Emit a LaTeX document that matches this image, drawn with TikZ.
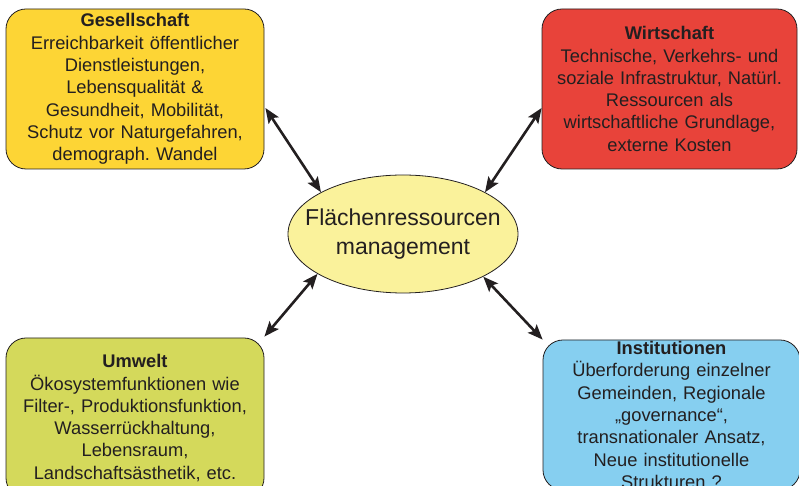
\documentclass[tikz,border=0pt]{standalone}
\usepackage{fontspec}
\setmainfont{Liberation Sans}
\usetikzlibrary{shapes.geometric,arrows.meta,calc}
\definecolor{cges}{HTML}{FDD535}
\definecolor{cwir}{HTML}{E8433A}
\definecolor{cumw}{HTML}{D4D95B}
\definecolor{cins}{HTML}{86CFF0}
\definecolor{cell}{HTML}{FAF29B}
\definecolor{cline}{HTML}{231F20}
\begin{document}
\begin{tikzpicture}[x=1pt,y=1pt,
  box/.style={draw=cline, line width=0.8pt, rounded corners=20pt, minimum width=258pt, minimum height=160pt, align=center, text width=254pt, inner sep=0pt, font=\fontsize{18.3}{22.3}\selectfont, text=cline},
  conn/.style={line width=2.6pt, draw=cline, {Stealth[length=15pt,width=12pt,inset=3pt]}-{Stealth[length=15pt,width=12pt,inset=3pt]}}
]
\useasboundingbox (0,0) rectangle (799,486);
\clip (0,0) rectangle (799,486);
\node[box, fill=cges] (ges) at (135,397) {\textbf{Gesellschaft}\\Erreichbarkeit öffentlicher\\Dienstleistungen,\\Lebensqualität \&\\Gesundheit, Mobilität,\\Schutz vor Naturgefahren,\\demograph.~Wandel};
\node[box, fill=cwir, minimum width=255pt] (wir) at (669.5,397) {\textbf{Wirtschaft}\\Technische, Verkehrs- und\\soziale Infrastruktur, Natürl.\\Ressourcen als\\wirtschaftliche Grundlage,\\externe Kosten};
\node[box, fill=cumw] (umw) at (135,68) {\textbf{Umwelt}\\Ökosystemfunktionen wie\\Filter-, Produktionsfunktion,\\Wasserrückhaltung,\\Lebensraum,\\Landschaftsästhetik, etc.};
\node[box, fill=cins, minimum width=257pt, minimum height=150pt, inner ysep=1pt] (ins) at (671.5,71) {\textbf{Institutionen}\\Überforderung einzelner\\Gemeinden, Regionale\\„governance“,\\transnationaler Ansatz,\\Neue institutionelle\\Strukturen ?};
\node[ellipse, draw=cline, line width=0.8pt, fill=cell, minimum width=230pt, minimum height=118pt, inner sep=0pt] (ell) at (403,252) {};
\node[align=center, inner sep=0pt, font=\fontsize{23}{29}\selectfont, text=cline] (ellt) at (ell.center) {Flächenressourcen\\management};
\draw[conn] ($(ges.east)+(1,-19)$) -- (ell.153);
\draw[conn] ($(wir.west)+(0,-19)$) -- (ell.27);
\draw[conn] ($(umw.north east)+(0,1)$) -- (ell.205);
\draw[conn] ($(ins.north west)+(0,0)$) -- (ell.332);
\end{tikzpicture}
\end{document}
